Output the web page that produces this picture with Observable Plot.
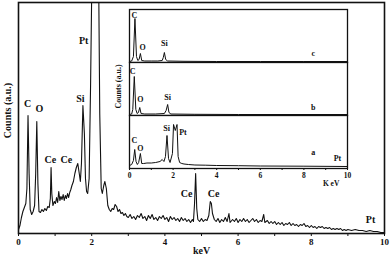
<!DOCTYPE html>
<html><head><meta charset="utf-8">
<script src="https://cdn.jsdelivr.net/npm/d3@7"></script>
<script src="https://cdn.jsdelivr.net/npm/@observablehq/plot@0.6"></script>
<style>
body{margin:0;background:#fff}
#wrap{position:relative;width:392px;height:259px;overflow:hidden}
#wrap svg{position:absolute}
</style>
</head><body><div id="wrap"></div>
<script>
// Main EDX spectrum: [keV, counts (a.u.)]
const mainSpectrum = [
[0.00,4],[0.04,8],[0.08,16],[0.12,22],[0.16,26],[0.20,30],[0.23,45],[0.26,118],[0.29,60],[0.32,24],[0.36,19],[0.40,22],[0.44,28],[0.47,60],[0.50,112],[0.53,50],[0.56,22],[0.60,21],[0.64,24],[0.68,22],[0.72,25],[0.76,23],[0.80,27],[0.84,26],[0.87,35],[0.89,66],[0.91,40],[0.94,28],[0.98,32],[1.01,30],[1.04,36],[1.07,31],[1.10,42],[1.13,33],[1.16,37],[1.19,34],[1.22,39],[1.25,33],[1.28,38],[1.31,35],[1.34,40],[1.37,36],[1.40,41],[1.43,44],[1.46,48],[1.50,52],[1.54,60],[1.58,66],[1.62,70],[1.66,60],[1.69,52],[1.72,70],[1.76,128],[1.80,100],[1.83,55],[1.86,42],[1.89,40],[1.93,55],[1.97,150],[2.02,300],[2.10,320],[2.18,300],[2.22,120],[2.26,45],[2.29,40],[2.33,48],[2.36,52],[2.40,45],[2.44,28],[2.48,24],[2.52,22],[2.56,25],[2.60,24],[2.64,29],[2.68,27],[2.72,22],[2.76,24],[2.80,20],[2.84,21],[2.88,18],[2.92,20],[2.96,17],
[3.00,16],[3.05,19],[3.10,15],[3.15,17],[3.20,14],[3.25,18],[3.30,16],[3.35,20],[3.40,15],[3.45,17],[3.50,13],[3.55,18],[3.60,15],[3.65,19],[3.70,14],[3.75,16],[3.80,13],[3.85,17],[3.90,15],[3.95,18],[4.00,14],[4.05,16],[4.10,12],[4.15,17],[4.20,14],[4.25,16],[4.30,13],[4.35,15],[4.40,12],[4.45,16],[4.50,13],[4.55,15],[4.60,12],[4.65,14],[4.70,11],[4.75,14],[4.78,12],[4.81,30],[4.84,60],[4.87,25],[4.90,14],[4.95,12],[5.00,15],[5.05,12],[5.10,14],[5.15,13],[5.20,18],[5.24,32],[5.27,30],[5.30,20],[5.35,14],[5.40,12],[5.45,15],[5.50,11],[5.55,14],[5.60,12],[5.65,16],[5.70,12],[5.75,20],[5.78,11],[5.85,14],[5.90,12],[5.95,15],[6.00,11],[6.05,14],[6.10,12],[6.15,15],[6.20,12],[6.25,14],[6.30,11],[6.35,13],[6.40,15],[6.45,12],[6.50,14],[6.55,11],[6.60,13],[6.65,12],[6.70,19],[6.73,11],[6.80,13],[6.85,10],[6.90,12],[6.95,10],[7.00,12],[7.05,9],[7.10,11],[7.15,9],[7.20,11],[7.25,8],[7.30,10],[7.35,9],[7.40,11],[7.45,8],[7.50,10],[7.55,8],[7.60,9],[7.65,7],[7.70,9],[7.75,8],[7.80,10],[7.85,7],[7.90,8],[7.95,6],[8.00,8],[8.05,6],[8.10,7],[8.15,5],[8.20,7],[8.25,6],[8.30,7],[8.35,5],[8.40,6],[8.45,5],[8.50,6],[8.55,4],[8.60,5],[8.65,4],[8.70,5],[8.75,4],[8.80,5],[8.85,3],[8.90,4],[8.95,3],[9.00,4],[9.10,3],[9.20,4],[9.30,3],[9.40,3],[9.50,2],[9.60,3],[9.70,2],[9.80,2],[9.90,1],[10.0,1]
];
// Element labels on main spectrum: [text, keV, counts]
const mainLabels = [
["C",0.25,130],["O",0.57,125],["Ce",0.87,74],["Ce",1.31,74],["Si",1.69,135],["Pt",1.78,193],
["Ce",4.59,40],["Ce",5.33,40],["Pt",9.62,14]
];
// Inset spectra: [keV, counts]
const insetC = [[0,1],[0.1,1.5],[0.18,6],[0.25,44],[0.32,6],[0.38,2],[0.44,3],[0.5,9],[0.56,2],[0.7,1.5],[1.0,1.5],[1.3,1.5],[1.5,2],[1.55,5],[1.6,10],[1.66,3],[1.75,1.5],[2.5,1.2],[4,1],[6,1],[8,1],[10,1]];
const insetB = [[0,1],[0.1,1.5],[0.15,6],[0.22,39],[0.29,6],[0.35,2],[0.41,3],[0.47,8],[0.53,2],[0.7,1.5],[1.2,1.5],[1.6,2],[1.68,5],[1.75,11],[1.81,3],[1.9,1.5],[3,1.2],[5,1],[10,1]];
const insetA = [[0,3],[0.1,4],[0.18,8],[0.24,19],[0.3,7],[0.36,4],[0.42,6],[0.5,15],[0.56,5],[0.65,5],[0.8,5.5],[1.0,5.5],[1.2,6],[1.4,7],[1.5,9],[1.58,7],[1.65,12],[1.72,33],[1.79,10],[1.86,6],[1.97,15],[2.02,44],[2.1,38],[2.18,44],[2.23,12],[2.3,6],[2.4,5],[2.5,4.5],[2.7,4],[3,3.5],[3.5,3.3],[4,3],[5,2.8],[6,2.5],[8,2.3],[10,2]];
const panels = ["c","b","a"];
// Inset labels: [panel, text, keV, counts]
const insetLabels = [
["c","C",0.23,47],["c","O",0.6,15],["c","Si",1.6,19],["c","c",8.43,9],
["b","C",0.14,44],["b","O",0.5,16],["b","Si",1.75,18],["b","b",8.43,8],
["a","C",0.23,28],["a","O",0.5,20],["a","Si",1.7,40],["a","Pt",2.45,36],["a","a",8.43,16],["a","Pt",9.54,10]
];
const xTicks = [0,1,2,3,4,5,6,7,8,9,10];
const xTitle = "keV", insetXTitle = "K eV", yTitle = "Counts (a.u.)";

const font = "'Liberation Serif','Times New Roman',serif";
const fmt = d => d % 2 === 0 ? String(d) : "";

const main = Plot.plot({
  width: 392, height: 259, marginLeft: 18, marginRight: 8, marginTop: 2, marginBottom: 26,
  style: {fontFamily: font, fontWeight: "bold", fontSize: "9px", background: "transparent", color: "#111"},
  x: {domain: [0, 10], ticks: xTicks, tickFormat: fmt, tickSize: 3, tickPadding: 2, label: null},
  y: {domain: [0, 231], axis: null},
  marks: [
    Plot.line(mainSpectrum, {x: d => d[0], y: d => d[1], stroke: "#111", strokeWidth: 1.1, clip: true}),
    Plot.text(mainLabels, {x: d => d[1], y: d => d[2], text: d => d[0], fontSize: 10, fill: "#111"}),
    Plot.frame({stroke: "#111", strokeWidth: 1.6}),
    Plot.text([xTitle], {text: d => d, frameAnchor: "bottom", dy: 20, fontSize: 10, fill: "#111"}),
    Plot.text([yTitle], {text: d => d, x: 0, y: 123, dx: -11, rotate: -90, fontSize: 10, fill: "#111"})
  ]
});
main.style.left = "0px"; main.style.top = "0px";

const insetData = [
  ...insetC.map(d => ({panel: "c", e: d[0], c: d[1]})),
  ...insetB.map(d => ({panel: "b", e: d[0], c: d[1]})),
  ...insetA.map(d => ({panel: "a", e: d[0], c: d[1]}))
];

const inset = Plot.plot({
  width: 250, height: 185, marginLeft: 19, marginRight: 13, marginTop: 4, marginBottom: 22,
  style: {fontFamily: font, fontWeight: "bold", fontSize: "7.5px", background: "transparent", color: "#111"},
  fy: {domain: panels, axis: null, padding: 0},
  x: {domain: [0, 10], ticks: xTicks, tickFormat: fmt, tickSize: 2, tickPadding: 2, label: null},
  y: {domain: [0, 53], axis: null},
  marks: [
    Plot.frame({fill: "white", stroke: "#111", strokeWidth: 1.3}),
    Plot.line(insetData, {x: "e", y: "c", fy: "panel", z: "panel", stroke: "#111", strokeWidth: 1, clip: true}),
    Plot.text(insetLabels, {fy: d => d[0], text: d => d[1], x: d => d[2], y: d => d[3], fontSize: 8, fill: "#111"}),
    Plot.text([{t: insetXTitle, p: "a"}], {fy: "p", text: "t", x: 9.25, frameAnchor: "bottom", dy: 17.5, fontSize: 7.5, fill: "#111"}),
    Plot.text([{t: yTitle, p: "b"}], {fy: "p", text: "t", x: 0, y: 29, dx: -11, rotate: -90, fontSize: 8, fill: "#111"})
  ]
});
inset.style.left = "110px"; inset.style.top = "5px";

document.getElementById("wrap").append(main, inset);
</script>
</body></html>
